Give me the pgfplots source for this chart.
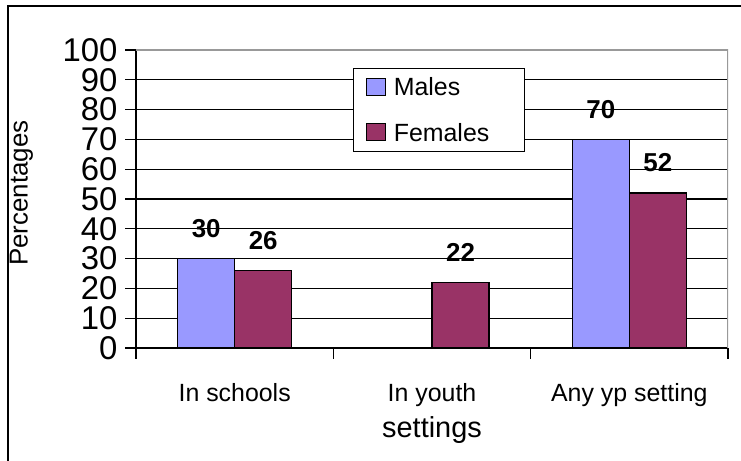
\documentclass[border=0pt]{standalone}
\usepackage{pgfplots}
\pgfplotsset{compat=1.18}
\usepackage{fontspec}
\setmainfont{Liberation Sans}
\definecolor{males}{RGB}{153,153,255}
\definecolor{females}{RGB}{153,51,102}
\begin{document}
\begin{tikzpicture}[x=1bp,y=1bp]
\useasboundingbox (0,0) rectangle (741,461);
\draw[line width=2bp] (8,-5) -- (8,455) -- (746,455);
\begin{axis}[
    at={(136bp,113bp)}, anchor=south west,
    scale only axis, width=592bp, height=298bp,
    ybar=0pt, bar width=57bp,
    xmin=-0.5, xmax=2.5, ymin=0, ymax=100,
    ytick={0,10,...,100},
    xtick={-0.5,0.5,1.5,2.5}, xticklabels={},
    extra x ticks={0,1,2},
    extra x tick labels={In schools,{In youth\\[9bp]{\fontsize{29}{29}\selectfont settings}},Any yp setting},
    extra x tick style={major tick length=0pt, grid=none,
        xticklabel style={anchor=north, yshift=-32bp, align=center,
            font=\fontsize{25}{25}\selectfont}},
    axis lines*=left,
    axis line style={line width=1.5bp, black},
    tick align=outside, major tick length=11bp,
    tick style={line width=1.3bp, black},
    ymajorgrids, grid style={line width=1.3bp, black},
    /pgf/number format/assume math mode=true,
    yticklabel style={font=\fontsize{33}{33}\selectfont, xshift=-4bp},
    ylabel={Percentages},
    ylabel style={at={(axis description cs:-0.168,0.52)}, anchor=south,
        font=\fontsize{26}{26}\selectfont},
    nodes near coords,
    nodes near coords style={font=\fontsize{26}{26}\selectfont\bfseries, yshift=17bp},
    legend style={at={(rel axis cs:0.3666,0.9396)}, anchor=north west,
        draw=black, line width=1.2bp, font=\fontsize{25}{25}\selectfont,
        inner xsep=12bp, inner ysep=7bp, row sep=22bp},
    legend cell align=left,
]
\addplot[fill=males, draw=black, line width=1.3bp,
    legend image code/.code={\draw[fill=males,draw=black,line width=1.2bp] (11bp,-8bp) rectangle (30bp,9bp);}]
    coordinates {(0,30) (2,70)};
\addlegendentry{\makebox[123bp][l]{\hspace{6bp}Males}}
\addplot[fill=females, draw=black, line width=1.3bp,
    legend image code/.code={\draw[fill=females,draw=black,line width=1.2bp] (11bp,-8bp) rectangle (30bp,9bp);}]
    coordinates {(0,26) (1,22) (2,52)};
\addlegendentry{\makebox[123bp][l]{\hspace{6bp}Females}}
\draw[gray!80, line width=1.5bp] (rel axis cs:0,1) -- (rel axis cs:1,1) -- (rel axis cs:1,0);
\end{axis}
\end{tikzpicture}
\end{document}
